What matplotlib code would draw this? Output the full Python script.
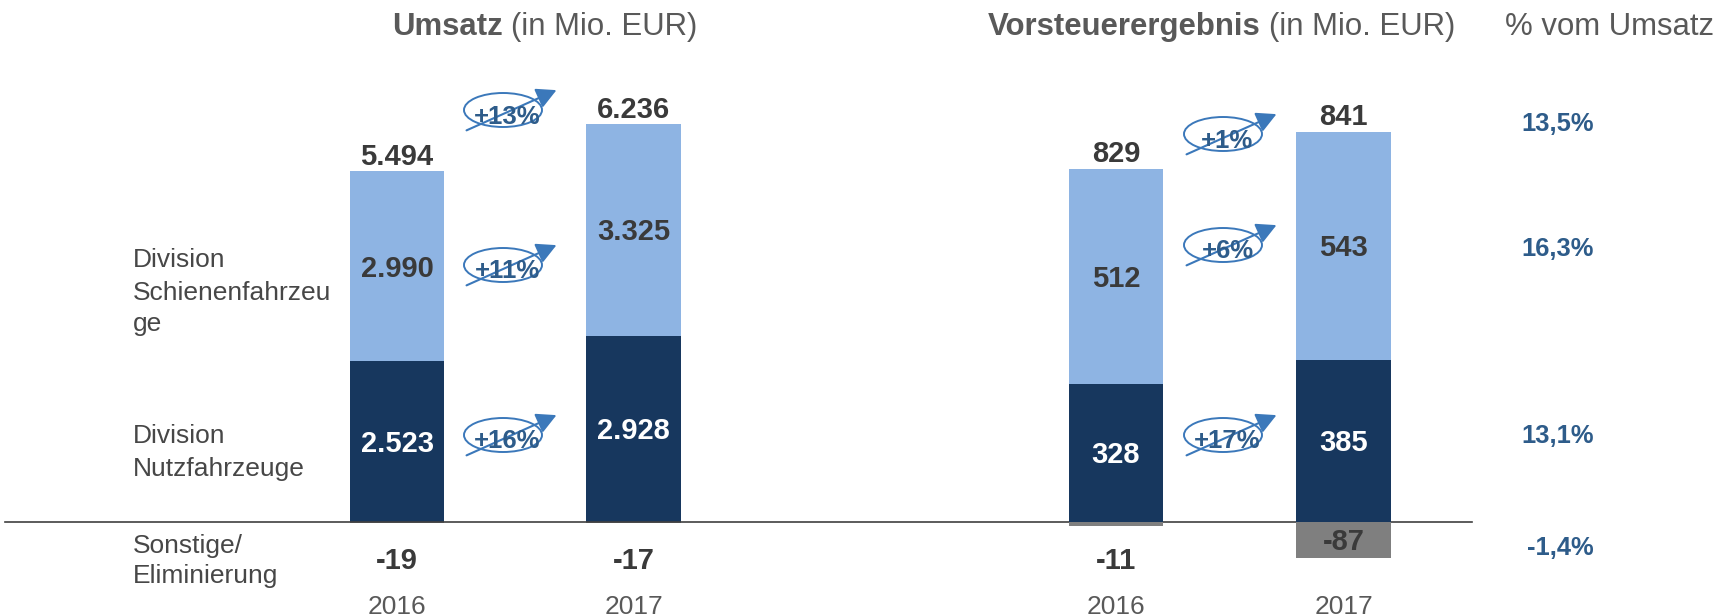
import matplotlib
matplotlib.use('Agg')
import matplotlib.pyplot as plt
from matplotlib.patches import Ellipse, FancyArrowPatch
from matplotlib.transforms import offset_copy

plt.rcParams['font.family'] = ['Liberation Sans', 'DejaVu Sans']

# ---------------- data ----------------
years = ['2016', '2017']
umsatz_nutz = [2523, 2928]
umsatz_schiene = [2990, 3325]
umsatz_sonst = [-19, -17]
umsatz_total = [5494, 6236]
vst_nutz = [328, 385]
vst_schiene = [512, 543]
vst_sonst = [-11, -87]
vst_total = [829, 841]
umsatz_growth = ['+13%', '+11%', '+16%']   # total, schiene, nutz
vst_growth = ['+1%', '+6%', '+17%']
margin_labels = ['13,5%', '16,3%', '13,1%', '-1,4%']  # total, schiene, nutz, sonstige
row_labels = [['Division', 'Schienenfahrzeu', 'ge'],
              ['Division', 'Nutzfahrzeuge'],
              ['Sonstige/', 'Eliminierung']]

# ---------------- style / layout ----------------
W, H = 1723, 616
LIGHT = '#8EB4E3'
NAVY = '#17375E'
GREY = '#7F7F7F'
TITLE = '#595959'
VAL = '#3A3A3A'
TXT = '#474747'
BLUE_T = '#2E5C8A'
BLUE_L = '#3B78BA'
BASE = 521.5      # pixel row of the zero line (from top)
S1 = 0.0635       # px per Mio EUR, Umsatz
S2 = 0.42         # px per Mio EUR, Vorsteuerergebnis
X1 = [397, 633.5]
X2 = [1116, 1343.5]
BW = 94.5

fig = plt.figure(figsize=(W / 100, H / 100), dpi=100)


def data_axes(scale):
    ax = fig.add_axes([0, 0, 1, 1])
    ax.set_xlim(0, W)
    ax.set_ylim(-(H - BASE) / scale, BASE / scale)
    ax.axis('off')
    ax.patch.set_alpha(0)
    return ax


ax1 = data_axes(S1)
ax2 = data_axes(S2)
axp = fig.add_axes([0, 0, 1, 1])
axp.set_xlim(0, W)
axp.set_ylim(H, 0)
axp.axis('off')
axp.patch.set_alpha(0)


def fmt(v):
    return f'{v:,}'.replace(',', '.')


def ctext(ax, x, y, s, size, color, weight='bold', ha='center', dy=None):
    # text whose cap height is vertically centred on (x, y)
    if dy is None:
        dy = -0.355 * size
    tr = offset_copy(ax.transData, fig=fig, y=dy, units='points')
    return ax.text(x, y, s, fontsize=size, color=color, weight=weight,
                   ha=ha, va='baseline', transform=tr)


def draw_chart(ax, xs, nutz, schiene, sonst, total, scale):
    ax.bar(xs, nutz, BW, color=NAVY, linewidth=0)
    ax.bar(xs, schiene, BW, bottom=nutz, color=LIGHT, linewidth=0)
    ax.bar(xs, sonst, BW, color=GREY, linewidth=0)
    for x, n, s, o, t in zip(xs, nutz, schiene, sonst, total):
        ctext(ax, x, n / 2, fmt(n), 21, 'white')
        ctext(ax, x, n + s / 2, fmt(s), 21, VAL)
        tr = offset_copy(ax.transData, fig=fig, y=6.5, units='dots')
        ax.text(x, n + s, fmt(t), fontsize=21, color=VAL, weight='bold',
                ha='center', va='baseline', transform=tr)
        if abs(o) * scale > 25:
            ctext(ax, x, o / 2, fmt(o), 21, VAL)
        else:
            axp.text(x, 569, fmt(o), fontsize=21, color=VAL, weight='bold',
                     ha='center', va='baseline')
    for x, y in zip(xs, years):
        axp.text(x, 614, y, fontsize=19, color=TITLE, ha='center', va='baseline')


draw_chart(ax1, X1, umsatz_nutz, umsatz_schiene, umsatz_sonst, umsatz_total, S1)
draw_chart(ax2, X2, vst_nutz, vst_schiene, vst_sonst, vst_total, S2)

# zero line
ax1.axhline(0, xmin=5 / W, xmax=1472 / W, color='#404040', lw=1.2, zorder=5)


# growth markers (ellipse + arrow)
def marker(cx, cy, label):
    arr = FancyArrowPatch((cx - 39, cy + 21.5), (cx + 56, cy - 21),
                          arrowstyle='-|>,head_length=0.8,head_width=0.42',
                          mutation_scale=15, color=BLUE_L, lw=1.5,
                          transform=axp.transData, zorder=3)
    axp.add_patch(arr)
    axp.add_patch(Ellipse((cx, cy), 78, 34, fill=False, edgecolor=BLUE_L,
                          lw=1.4, zorder=4))
    axp.text(cx + 4.5, cy + 13.5, label, fontsize=18.5, weight='bold',
             color=BLUE_T, ha='center', va='baseline', zorder=6)


for (cx, cys, labels) in [(503, [110, 265, 435], umsatz_growth),
                          (1223, [134, 245, 435], vst_growth)]:
    for cy, lab in zip(cys, labels):
        marker(cx, cy, lab)

# margin column
for yb, lab in zip([130.7, 255.7, 443.3, 555], margin_labels):
    axp.text(1594, yb, lab, fontsize=18.4, weight='bold', color=BLUE_T,
             ha='right', va='baseline')

# row labels
for lines, bases in zip(row_labels, [[267.3, 300, 331.5], [442.7, 475.7], [552.7, 583.5]]):
    for ln, yb in zip(lines, bases):
        axp.text(132.7, yb, ln, fontsize=19, color=TXT, ha='left', va='baseline')

# titles
renderer = fig.canvas.get_renderer()
TS = 22.4


def title(x, bold, regular):
    t = axp.text(x, 35, bold, fontsize=TS, weight='bold', color=TITLE,
                 ha='left', va='baseline')
    bb = t.get_window_extent(renderer=renderer)
    space = 0.278 * TS * 100 / 72
    axp.text(bb.x1 + space, 35, regular, fontsize=TS, color=TITLE,
             ha='left', va='baseline')


title(391.7, 'Umsatz', '(in Mio. EUR)')
title(987.3, 'Vorsteuerergebnis', '(in Mio. EUR)')
axp.text(1505, 35, '% vom Umsatz', fontsize=TS, color=TITLE, ha='left', va='baseline')

fig.savefig('out.png', dpi=100)
